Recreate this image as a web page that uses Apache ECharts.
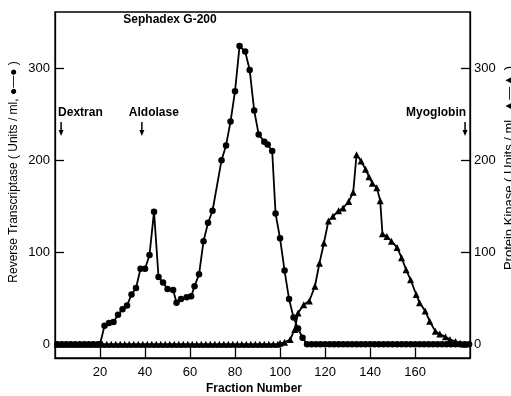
<!DOCTYPE html>
<html><head><meta charset="utf-8">
<script src="https://cdn.jsdelivr.net/npm/echarts@6/dist/echarts.min.js"></script>
<style>html,body{margin:0;padding:0;background:#fff}#c{width:511px;height:396px}</style>
</head><body><div id="c"></div>
<script>
// Reverse transcriptase (circles)
const rtFraction = [1,3,5,7,9,11,13,15,17,19,20,22,24,26,28,30,32,34,36,38,40,42,44,46,48,50,52.5,54,56,58.5,60.5,62,64,66,68,70,74,76,78,80,82,84.5,86.5,88.5,90.5,93,94.5,96.5,98,100,102,104,106,108,110,112,114,116,118,120,122,124,126,128,130,132,134,136,138,140,142,144,146,148,150,152,154,156,158,160,162,164,166,168,170,172,174,176,178,180,182,184];
const rtUnits = [0,0,0,0,0,0,0,0,0,0,0,20,23,24,32,38,42,54,61,82,82,97,144,73,67,60,59,45,49,51,52,63,76,112,132,145,200,216,242,275,324,318,298,254,228,220,217,210,142,115,80,49,29,17,7,0,0,0,0,0,0,0,0,0,0,0,0,0,0,0,0,0,0,0,0,0,0,0,0,0,0,0,0,0,0,0,0,0,0,0,0,0];
// Protein kinase (triangles)
const pkFraction = [1,3,5,7,9,11,13,15,17,19,21,23,25,27,29,31,33,35,37,39,41,43,45,47,49,51,53,55,57,59,61,63,65,67,69,71,73,75,77,79,81,83,85,87,89,91,93,95,97,99,100,102,104.5,106.5,108,110.5,113,115.5,117.5,119.5,121.5,123.5,126,128,130.5,132.5,134,136,138,139.5,141,143,144.5,145.5,147.5,149.5,152,154,156,158,160.5,162,164.5,166.5,169,171,173.5,175.5,178,180,182];
const pkUnits = [0,0,0,0,0,0,0,0,0,0,0,0,0,0,0,0,0,0,0,0,0,0,0,0,0,0,0,0,0,0,0,0,0,0,0,0,0,0,0,0,0,0,0,0,0,0,0,0,0,0,1,2,5,16,34,43,47,63,88,110,134,139,145,148,155,165,206,199,190,182,175,170,156,120,117,112,105,94,81,70,54,45,36,25,14,11,8,5,3,1,0];
const xTickValues = [20,40,60,80,100,120,140,160];
const yTickValues = [0,100,200,300];
const markerNames = ['Dextran','Aldolase','Myoglobin'];
const markerFractions = [2.7,38.6,182.2];
const titleText = 'Sephadex G-200';
const leftName = 'Reverse Transcriptase ( Units / ml, \u25CF\u2014\u25CF )';
const rightName = 'Protein Kinase ( Units / ml, \u25B2\u2014\u25B2 )';
const xName = 'Fraction Number';

const FONT = 'Liberation Sans';
const chart = echarts.init(document.getElementById('c'));
function yAx(pos){
  return {type:'value',position:pos,min:-15,max:361,
    axisLine:{show:true,onZero:false,lineStyle:{color:'#000',width:1.3}},
    axisTick:{show:true,inside:true,length:9,customValues:yTickValues,lineStyle:{color:'#000',width:1.3}},
    axisLabel:{customValues:yTickValues,color:'#000',fontFamily:FONT,fontSize:13,margin:pos==='left'?5:4},
    splitLine:{show:false}};
}
chart.setOption({
  animation:false,
  grid:{left:55,right:41,top:12,bottom:38,show:true,borderColor:'#000',borderWidth:1.3},
  xAxis:{type:'value',min:0,max:184.4,
    axisLine:{show:true,onZero:false,lineStyle:{color:'#000',width:1.3}},
    axisTick:{show:true,inside:true,length:10,customValues:xTickValues,lineStyle:{color:'#000',width:1.3}},
    axisLabel:{customValues:xTickValues,color:'#000',fontFamily:FONT,fontSize:13,margin:8},
    splitLine:{show:false}},
  yAxis:[yAx('left'),yAx('right')],
  series:[
    {type:'line',data:rtFraction.map((f,i)=>[f,rtUnits[i]]),yAxisIndex:0,
     symbol:'circle',symbolSize:6.5,itemStyle:{color:'#000'},lineStyle:{color:'#000',width:1.8},z:3},
    {type:'line',data:pkFraction.map((f,i)=>[f,pkUnits[i]]),yAxisIndex:1,
     symbol:'triangle',symbolSize:7,itemStyle:{color:'#000'},lineStyle:{color:'#000',width:1.8},z:2}
  ]
});
const g = [];
const txtStyle = {fill:'#000',font:'bold 12px "Liberation Sans"'};
const offs = [{dx:-3,align:'left'},{dx:-13,align:'left'},{dx:1,align:'right'}];
markerNames.forEach((n,i)=>{
  const px = chart.convertToPixel({gridIndex:0},[markerFractions[i],0])[0];
  g.push({type:'text',style:Object.assign({text:n,x:px+offs[i].dx,y:113,align:offs[i].align,verticalAlign:'middle'},txtStyle)});
  g.push({type:'line',shape:{x1:px,y1:122,x2:px,y2:132},style:{stroke:'#000',lineWidth:1.5}});
  g.push({type:'polygon',shape:{points:[[px-2.5,130],[px+2.5,130],[px,136]]},style:{fill:'#000'}});
});
g.push({type:'text',style:Object.assign({text:titleText,x:170,y:20,align:'center',verticalAlign:'middle'},txtStyle)});
g.push({type:'text',style:Object.assign({text:xName,x:254,y:389,align:'center',verticalAlign:'middle'},txtStyle)});
g.push({type:'text',x:14,y:172,rotation:Math.PI/2,style:{text:leftName,x:0,y:0,align:'center',verticalAlign:'middle',fill:'#000',font:'12px "Liberation Sans"'}});
g.push({type:'text',x:509,y:168,rotation:Math.PI/2,style:{text:rightName,x:0,y:0,align:'center',verticalAlign:'middle',fill:'#000',font:'13px "Liberation Sans"'}});
chart.setOption({graphic:g});
</script></body></html>
